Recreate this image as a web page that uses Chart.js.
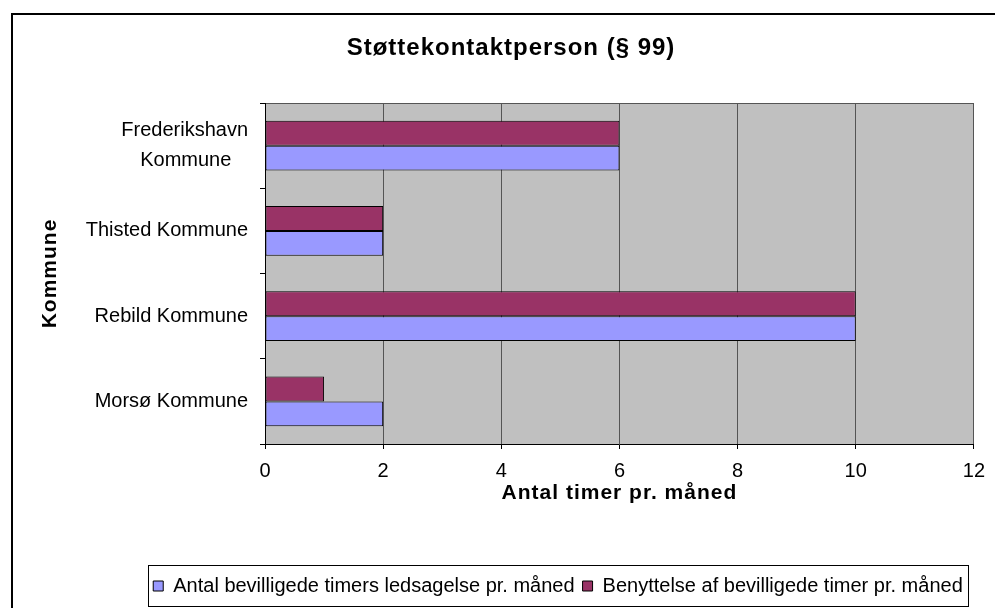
<!DOCTYPE html>
<html><head><meta charset="utf-8">
<script src="https://cdn.jsdelivr.net/npm/chart.js@4.4.1/dist/chart.umd.min.js"></script>
<style>
html,body{margin:0;padding:0;background:#fff;overflow:hidden;width:995px;height:608px}
#frame{position:absolute;left:11px;top:13px;width:2000px;height:2000px;border-left:2px solid #000;border-top:2px solid #000;box-sizing:border-box}
#box{position:absolute;left:0;top:0;width:995px;height:608px}
</style></head><body>
<div id="frame"></div>
<div id="box"><canvas id="c" width="995" height="608"></canvas></div>
<script>
const categories = ['Frederikshavn Kommune', 'Thisted Kommune', 'Rebild Kommune', 'Morsø Kommune'];
const seriesNames = ['Antal bevilligede timers ledsagelse pr. måned', 'Benyttelse af bevilligede timer pr. måned'];
const antalBevilgede = [6, 2, 10, 2];
const benyttelse = [6, 2, 10, 1];
const xMin = 0, xMax = 12, xStep = 2;
const chartTitle = 'Støttekontaktperson (§ 99)';
const xTitle = 'Antal timer pr. måned';
const yTitle = 'Kommune';

const FAM = "'Liberation Sans', Arial, Helvetica, sans-serif";
const TITLE_SPACING = '1px';
const TICK_FONT = {family: FAM, size: 20};
const YTICK_FONT = {family: FAM, size: 20, lineHeight: 1.5};
Chart.defaults.font.family = FAM;
Chart.defaults.color = '#000';

const measureCtx = document.createElement('canvas').getContext('2d');
function wrapLabel(label) {
  if (label.length <= 18) return label;
  const i = label.lastIndexOf(' ');
  const a = label.slice(0, i), b = label.slice(i + 1);
  measureCtx.font = TICK_FONT.size + 'px ' + FAM;
  const wa = measureCtx.measureText(a).width, wb = measureCtx.measureText(b).width;
  const sp = measureCtx.measureText(' ').width;
  const n = Math.max(0, Math.round((wa - wb) / 2 / sp));
  return [a, b + ' '.repeat(n)];
}

function patchSpacing(obj, method, sp) {
  if (!obj || !obj[method] || obj[method].__patched) return;
  const orig = obj[method];
  const f = function(...args) {
    const ctx = this.ctx;
    const prev = ctx.letterSpacing;
    ctx.letterSpacing = sp;
    try { return orig.apply(this, args); } finally { ctx.letterSpacing = prev; }
  };
  f.__patched = true;
  obj[method] = f;
}

const legendBox = {left: 148, right: 968, top: 565, bottom: 606};

const custom = {
  id: 'custom',
  afterLayout(chart) {
    const lg = chart.legend;
    if (lg) { lg.left = 100; lg.right = 1016; }
  },
  beforeDraw(chart) {
    patchSpacing(chart.titleBlock, 'draw', TITLE_SPACING);
    for (const s of Object.values(chart.scales)) patchSpacing(s, 'drawTitle', TITLE_SPACING);
    const {ctx, chartArea: a} = chart;
    ctx.save();
    ctx.fillStyle = '#C0C0C0';
    ctx.fillRect(a.left, a.top, a.right - a.left, a.bottom - a.top);
    ctx.strokeStyle = '#555';
    ctx.lineWidth = 1;
    ctx.beginPath();
    const y = Math.round(a.top) + 0.5;
    ctx.moveTo(a.left, y); ctx.lineTo(a.right, y);
    ctx.stroke();
    ctx.restore();
  },
  afterDraw(chart) {
    const ctx = chart.ctx;
    ctx.save();
    ctx.strokeStyle = '#000';
    ctx.lineWidth = 1;
    ctx.strokeRect(legendBox.left + 0.5, legendBox.top + 0.5, legendBox.right - legendBox.left, legendBox.bottom - legendBox.top);
    ctx.restore();
  }
};

new Chart(document.getElementById('c'), {
  type: 'bar',
  data: {
    labels: categories,
    datasets: [
      {label: seriesNames[1], data: benyttelse, backgroundColor: '#993366', borderColor: '#000', borderWidth: 1, borderSkipped: false, categoryPercentage: 0.586, barPercentage: 1},
      {label: seriesNames[0], data: antalBevilgede, backgroundColor: '#9999FF', borderColor: '#000', borderWidth: 1, borderSkipped: false, categoryPercentage: 0.586, barPercentage: 1}
    ]
  },
  options: {
    indexAxis: 'y',
    responsive: false,
    animation: false,
    devicePixelRatio: 1,
    layout: {padding: {left: 47, right: 20, top: 0, bottom: 2}},
    plugins: {
      title: {display: true, text: chartTitle, color: '#000', font: {family: FAM, size: 24, weight: 'bold'}, padding: {top: 33.6, bottom: 40.6}},
      legend: {display: true, position: 'bottom', reverse: true,
        labels: {color: '#000', font: {family: FAM, size: 20}, boxWidth: 10, boxHeight: 10, padding: 8}},
      tooltip: {enabled: false}
    },
    scales: {
      x: {
        type: 'linear', min: xMin, max: xMax,
        ticks: {stepSize: xStep, color: '#000', font: TICK_FONT, padding: 10},
        grid: {color: '#555', lineWidth: 1, tickColor: '#000', tickLength: 5},
        border: {color: '#000', width: 1},
        title: {display: true, text: xTitle, color: '#000', font: {family: FAM, size: 21, weight: 'bold'}, padding: {top: 0, bottom: 62.4}},
        afterFit(s) { s.height = 124; }
      },
      y: {
        type: 'category', offset: true,
        ticks: {color: '#000', font: YTICK_FONT, padding: 12, callback: function(v) { return wrapLabel(this.getLabelForValue(v)); }},
        grid: {offset: true, drawOnChartArea: false, tickColor: '#000', tickLength: 5},
        border: {color: '#000', width: 1},
        title: {display: true, text: yTitle, color: '#000', font: {family: FAM, size: 21, weight: 'bold'}, padding: {top: -9.6, bottom: 0}},
        afterFit(s) { s.width = 218; }
      }
    }
  },
  plugins: [custom]
});
</script>
</body></html>
